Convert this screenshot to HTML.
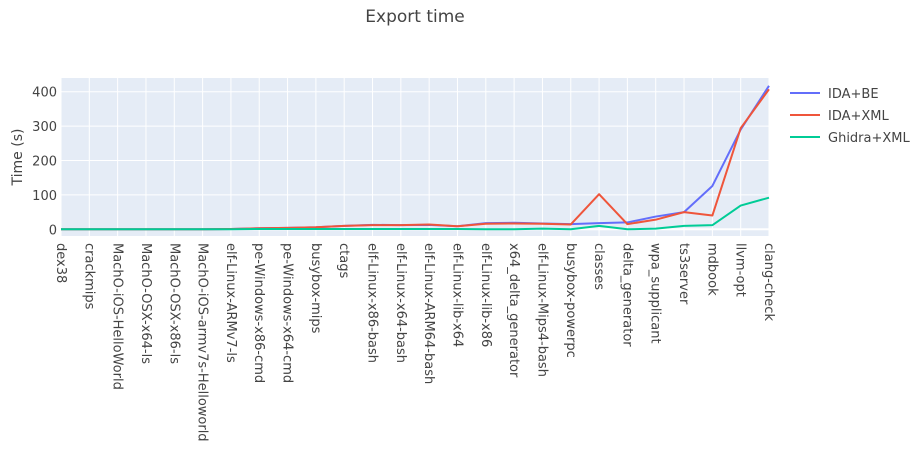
<!DOCTYPE html><html><head><style>body{margin:0;background:#fff}svg{font-family:"DejaVu Sans","Liberation Sans",sans-serif}</style></head><body>
<svg width="919" height="459" xmlns="http://www.w3.org/2000/svg">
<rect width="919" height="459" fill="#fff"/>
<text x="415" y="22" font-size="17" fill="#444" text-anchor="middle">Export time</text>
<rect x="61" y="78" width="708" height="158" fill="#e5ecf6"/>
<g id="g" stroke="#fff" stroke-width="1"></g>
<g id="lines" fill="none" stroke-width="2" stroke-linejoin="round"></g>
<g id="yl" font-size="13" fill="#444" text-anchor="end"></g>
<g id="xl" font-size="13" fill="#444"></g>
<text transform="translate(22,157) rotate(-90)" font-size="14" fill="#444" text-anchor="middle">Time (s)</text>
<g font-size="13" fill="#444">
<line x1="790" y1="93" x2="820" y2="93" stroke="#636efa" stroke-width="2"/><text x="828" y="98">IDA+BE</text>
<line x1="790" y1="115" x2="820" y2="115" stroke="#ef553b" stroke-width="2"/><text x="828" y="120">IDA+XML</text>
<line x1="790" y1="137" x2="820" y2="137" stroke="#00cc96" stroke-width="2"/><text x="828" y="142">Ghidra+XML</text>
</g>
<script>
var ns="http://www.w3.org/2000/svg";
var labels=["dex38","crackmips","MachO-iOS-HelloWorld","MachO-OSX-x64-ls","MachO-OSX-x86-ls","MachO-iOS-armv7s-Helloworld","elf-Linux-ARMv7-ls","pe-Windows-x86-cmd","pe-Windows-x64-cmd","busybox-mips","ctags","elf-Linux-x86-bash","elf-Linux-x64-bash","elf-Linux-ARM64-bash","elf-Linux-lib-x64","elf-Linux-lib-x86","x64_delta_generator","elf-Linux-Mips4-bash","busybox-powerpc","classes","delta_generator","wpa_supplicant","ts3server","mdbook","llvm-opt","clang-check"];
var be=[0,0,0,0,0,0,1,3,4,6,10,13,12,13,9,18,19,17,15,18,20,37,50,126,290,417];
var xml=[0,0,0,0,0,0,1,3,4,6,10,12,12,14,9,16,17,16,14,102,15,28,50,40,294,407];
var gh=[0,0,0,0,0,0,0,1,1,1,1,1,1,1,1,0,0,2,0,10,0,2,10,12,69,92];
function X(i){return 61+i*28.32}function Y(v){return 229.3-v*0.344}
var g=document.getElementById("g"),yl=document.getElementById("yl"),xl=document.getElementById("xl");
function el(t,a,p){var e=document.createElementNS(ns,t);for(var k in a)e.setAttribute(k,a[k]);p.appendChild(e);return e}
for(var i=0;i<26;i++){el("line",{x1:X(i),x2:X(i),y1:78,y2:236},g);var t=el("text",{transform:"translate("+(X(i)-4)+",243) rotate(90)"},xl);t.textContent=labels[i];}
for(var v=0;v<=400;v+=100){el("line",{x1:61,x2:769,y1:Y(v),y2:Y(v),"stroke-width":v==0?2:1},g);var t=el("text",{x:57,y:Y(v)+5},yl);t.textContent=v;}
var L=document.getElementById("lines");
[[be,"#636efa"],[xml,"#ef553b"],[gh,"#00cc96"]].forEach(function(s){el("polyline",{points:s[0].map(function(v,i){return X(i)+","+Y(v)}).join(" "),stroke:s[1]},L)});
</script>
</svg></body></html>
